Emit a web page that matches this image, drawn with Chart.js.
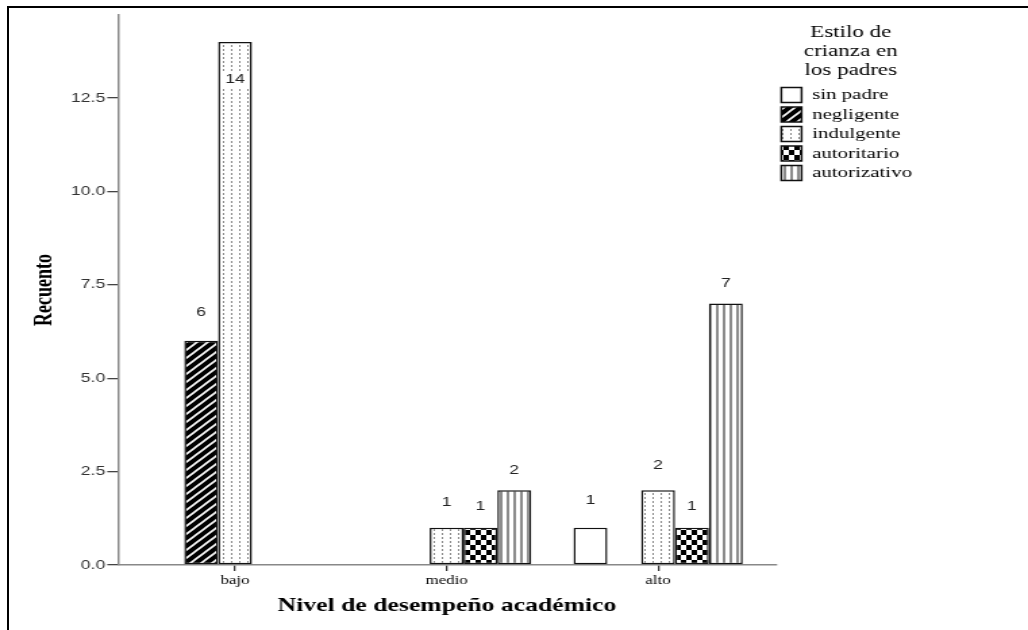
<!DOCTYPE html>
<html>
<head>
<meta charset="utf-8">
<title>Recuento por nivel de desempeño</title>
<script src="https://cdn.jsdelivr.net/npm/chart.js@4.4.1/dist/chart.umd.min.js"></script>
<style>
  html, body { margin: 0; padding: 0; background: #fff; overflow: hidden; }
  #frame { position: absolute; left: 7px; top: 6px; width: 1100px; height: 700px;
           border-top: 2px solid #000; border-left: 2px solid #000; }
  #c { position: absolute; left: 0; top: 0; }
</style>
</head>
<body>
<div id="frame"></div>
<!-- the original export is stretched sideways, so draw narrow and let css widen it -->
<canvas id="c" width="761" height="630" style="width:1028px;height:630px"></canvas>
<script>
const categories = ['bajo', 'medio', 'alto'];
const estilos = ['sin padre', 'negligente', 'indulgente', 'autoritario', 'autorizativo'];
const sinPadre     = [null, null, 1];
const negligente   = [6, null, null];
const indulgente   = [14, 1, 2];
const autoritario  = [null, 1, 1];
const autorizativo = [null, 2, 7];
const yTicks = [0, 2.5, 5, 7.5, 10, 12.5];

// small repeating tiles for the SPSS style fills
function tile(w, h, draw) {
    let c = document.createElement('canvas');
    c.width = w;
    c.height = h;
    let g = c.getContext('2d');
    g.fillStyle = '#fff';
    g.fillRect(0, 0, w, h);
    draw(g);
    return g.createPattern(c, 'repeat');
}
const pNeg = tile(8, 8, g => {
    g.fillStyle = '#000';
    g.fillRect(0, 0, 8, 8);
    g.strokeStyle = '#fff';
    g.lineWidth = 1.6;
    g.beginPath();
    g.moveTo(-1, 9); g.lineTo(9, -1);
    g.moveTo(-1, 1); g.lineTo(1, -1);
    g.moveTo(7, 9); g.lineTo(9, 7);
    g.stroke();
});
const pInd = tile(6, 4, g => {
    g.fillStyle = '#888';
    g.fillRect(3, 1, 1, 2);
});
const pAut = tile(8, 10, g => {
    g.fillStyle = '#000';
    g.fillRect(0, 0, 4, 5);
    g.fillRect(4, 5, 4, 5);
});
const pAtz = tile(5, 2, g => {
    g.fillStyle = '#8c8c8c';
    g.fillRect(0, 0, 2, 2);
});

const series = [sinPadre, negligente, indulgente, autoritario, autorizativo];
const fills = ['#ffffff', pNeg, pInd, pAut, pAtz];
const labelGap = [27, 28, 25, 21, 20];

const valueLabels = {
    id: 'valueLabels',
    afterDatasetsDraw(chart) {
        let ctx = chart.ctx;
        let top = chart.chartArea.top;
        ctx.save();
        ctx.font = '13px "Liberation Sans", Arial, sans-serif';
        ctx.textAlign = 'center';
        ctx.textBaseline = 'middle';
        chart.data.datasets.forEach((ds, k) => {
            chart.getDatasetMeta(k).data.forEach((bar, i) => {
                let v = ds.data[i].y;
                if (v === null) return;
                let txt = String(v);
                let y = bar.y - ds.labelGap;
                if (y < top + 15) {
                    // no room above -> inside the bar on a white box
                    y = bar.y + 38;
                    let w = ctx.measureText(txt).width + 6;
                    ctx.fillStyle = '#fff';
                    ctx.fillRect(bar.x - w / 2, y - 8, w, 16);
                }
                ctx.fillStyle = '#222';
                ctx.fillText(txt, bar.x, y);
            });
        });
        ctx.restore();
    }
};

const serif = '"Liberation Serif", "Times New Roman", serif';

const chart = new Chart('c', {
    type: 'bar',
    data: {
        datasets: series.map((vals, k) => ({
            label: estilos[k],
            data: categories.map((c, i) => ({x: i, y: vals[i]})),
            backgroundColor: fills[k],
            borderColor: '#111',
            borderWidth: 1.5,
            borderSkipped: false,
            categoryPercentage: 0.8,
            barPercentage: 1,
            labelGap: labelGap[k]
        }))
    },
    options: {
        responsive: false,
        animation: false,
        devicePixelRatio: 1,
        layout: {padding: {top: 15, left: 22.5, right: 60, bottom: 0}},
        plugins: {
            tooltip: {enabled: false},
            legend: {
                position: 'right',
                align: 'start',
                title: {
                    display: true,
                    text: ['Estilo de', 'crianza en', 'los padres'],
                    color: '#000',
                    font: {family: serif, size: 17, lineHeight: 1.1},
                    padding: {top: 9.5, bottom: 40}
                },
                labels: {
                    boxWidth: 15,
                    boxHeight: 15,
                    padding: 4,
                    color: '#000',
                    font: {family: serif, size: 15.5}
                }
            }
        },
        scales: {
            x: {
                type: 'linear',
                min: -0.553,
                max: 2.557,
                offset: false,
                afterBuildTicks: s => { s.ticks = categories.map((c, i) => ({value: i})); },
                afterFit: s => { s.height = 65; },
                grid: {display: true, drawOnChartArea: false, drawTicks: true, tickLength: 6,
                       color: '#333', lineWidth: 1.3, offset: false},
                border: {color: '#888', width: 1.5},
                ticks: {
                    callback: v => categories[Math.round(v)] ?? '',
                    color: '#000',
                    font: {family: serif, size: 12.5},
                    padding: 2,
                    maxRotation: 0,
                    autoSkip: false
                },
                title: {
                    display: true,
                    text: 'Nivel de desempeño académico',
                    color: '#000',
                    font: {family: serif, size: 19, weight: 'bold'},
                    padding: {top: 0, bottom: 12.6}
                }
            },
            y: {
                min: 0,
                max: 14.72,
                afterBuildTicks: s => { s.ticks = yTicks.map(v => ({value: v})); },
                afterFit: s => { s.width = 64.9; },
                grid: {drawOnChartArea: false, drawTicks: true, tickLength: 8, color: '#444', lineWidth: 1.3},
                border: {color: '#888', width: 1.5},
                ticks: {
                    callback: v => v.toFixed(1),
                    color: '#333',
                    font: {family: '"Liberation Sans", Arial, sans-serif', size: 13},
                    padding: 1.5
                },
                title: {
                    display: true,
                    text: 'Recuento',
                    color: '#000',
                    font: {family: serif, size: 18, weight: 'bold'},
                    padding: {top: 0, bottom: 0}
                }
            }
        }
    },
    plugins: [valueLabels]
});

// push the legend so the plot ends where the original axis ends
chart.options.layout.padding.right = chart.width - 574.4 - chart.legend.width;
chart.update();
</script>
</body>
</html>
